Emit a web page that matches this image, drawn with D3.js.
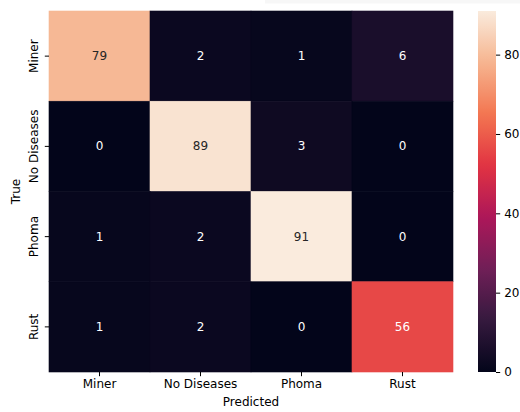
<!DOCTYPE html>
<html>
<head>
<meta charset="utf-8">
<script src="https://cdn.jsdelivr.net/npm/d3@7"></script>
<style>
  html, body { margin: 0; padding: 0; background: #fff; }
  svg { display: block; }
  text { font-family: "DejaVu Sans", sans-serif; }
</style>
</head>
<body>
<svg id="chart" width="520" height="412"></svg>
<script>
// Confusion matrix: rows = true class, columns = predicted class
const classes = ["Miner", "No Diseases", "Phoma", "Rust"];
const matrix = [
  [79, 2, 1, 6],
  [0, 89, 3, 0],
  [1, 2, 91, 0],
  [1, 2, 0, 56]
];
const colorbarTicks = [0, 20, 40, 60, 80];

// "rocket" colormap key stops
const rocketStops = ["#03051a", "#35193e", "#701f57", "#ad1759", "#e13342", "#f37651", "#f6b48f", "#faebdd"];
const rocketPos = [0, 1/7, 2/7, 3/7, 4/7, 5/7, 6/7, 1];

const W = 520, H = 412;
const plot = { left: 49, right: 453, top: 11, bottom: 372 };
const cbar = { left: 478, right: 496 };

const svg = d3.select("#chart");
svg.append("rect").attr("x", 0).attr("y", 0).attr("width", W).attr("height", H).attr("fill", "#fff");
svg.append("rect").attr("x", 265).attr("y", 0).attr("width", 255).attr("height", 3.5).attr("fill", "#f7f7f7");

const allVals = matrix.flat();
const vmin = d3.min(allVals), vmax = d3.max(allVals);

const rocket = d3.scaleLinear().domain(rocketPos).range(rocketStops).interpolate(d3.interpolateRgb);
const color = v => rocket((v - vmin) / (vmax - vmin));

const x = d3.scaleBand().domain(classes).range([plot.left, plot.right]);
const y = d3.scaleBand().domain(classes).range([plot.top, plot.bottom]);

const cells = [];
matrix.forEach((row, i) => row.forEach((v, j) => cells.push({ t: classes[i], p: classes[j], v })));

svg.append("g").selectAll("rect").data(cells).join("rect")
  .attr("x", d => x(d.p))
  .attr("y", d => y(d.t))
  .attr("width", x.bandwidth())
  .attr("height", y.bandwidth())
  .attr("fill", d => color(d.v))
  .attr("stroke", d => color(d.v))
  .attr("stroke-width", 0.6);

// Annotations: dark text on light cells, white on dark cells
function luminance(c) {
  const rgb = d3.rgb(c);
  const f = u => { u /= 255; return u <= 0.03928 ? u / 12.92 : Math.pow((u + 0.055) / 1.055, 2.4); };
  return 0.2126 * f(rgb.r) + 0.7152 * f(rgb.g) + 0.0722 * f(rgb.b);
}
svg.append("g").selectAll("text").data(cells).join("text")
  .attr("x", d => x(d.p) + x.bandwidth() / 2)
  .attr("y", d => y(d.t) + y.bandwidth() / 2)
  .attr("text-anchor", "middle")
  .attr("dominant-baseline", "central")
  .attr("font-size", 12)
  .attr("fill", d => luminance(color(d.v)) > 0.408 ? "#262626" : "#ffffff")
  .text(d => d.v);

// X axis
const xAxis = svg.append("g")
  .attr("transform", `translate(0,${plot.bottom})`)
  .call(d3.axisBottom(x).tickSize(4.2).tickPadding(3.5));
xAxis.select(".domain").remove();
xAxis.selectAll(".tick line").attr("stroke", "#000").attr("stroke-width", 1);
xAxis.selectAll(".tick text").attr("font-size", 12).attr("font-family", "DejaVu Sans").attr("fill", "#000");

// Y axis with vertical labels
const yAxis = svg.append("g")
  .attr("transform", `translate(${plot.left},0)`)
  .call(d3.axisLeft(y).tickSize(4.2).tickFormat(""));
yAxis.select(".domain").remove();
yAxis.selectAll(".tick line").attr("stroke", "#000").attr("stroke-width", 1);
svg.append("g").selectAll("text").data(classes).join("text")
  .attr("transform", d => `translate(37.6,${y(d) + y.bandwidth() / 2}) rotate(-90)`)
  .attr("text-anchor", "middle")
  .attr("font-size", 12)
  .attr("fill", "#000")
  .text(d => d);

// Axis titles
svg.append("text")
  .attr("x", (plot.left + plot.right) / 2).attr("y", 406)
  .attr("text-anchor", "middle").attr("font-size", 12).attr("fill", "#000")
  .text("Predicted");
svg.append("text")
  .attr("transform", `translate(20,${(plot.top + plot.bottom) / 2}) rotate(-90)`)
  .attr("text-anchor", "middle").attr("font-size", 12).attr("fill", "#000")
  .text("True");

// Colorbar
const defs = svg.append("defs");
const grad = defs.append("linearGradient").attr("id", "cbarGrad")
  .attr("x1", 0).attr("y1", 1).attr("x2", 0).attr("y2", 0);
d3.range(0, 1.0001, 0.02).forEach(t => {
  grad.append("stop").attr("offset", t).attr("stop-color", rocket(t));
});
svg.append("rect")
  .attr("x", cbar.left).attr("y", plot.top)
  .attr("width", cbar.right - cbar.left).attr("height", plot.bottom - plot.top)
  .attr("fill", "url(#cbarGrad)");

const cScale = d3.scaleLinear().domain([vmin, vmax]).range([plot.bottom, plot.top]);
const cAxis = svg.append("g")
  .attr("transform", `translate(${cbar.right},0)`)
  .call(d3.axisRight(cScale).tickValues(colorbarTicks).tickSize(4.2).tickPadding(4));
cAxis.select(".domain").remove();
cAxis.selectAll(".tick line").attr("stroke", "#000").attr("stroke-width", 1);
cAxis.selectAll(".tick text").attr("font-size", 12).attr("font-family", "DejaVu Sans").attr("fill", "#000");
</script>
</body>
</html>
